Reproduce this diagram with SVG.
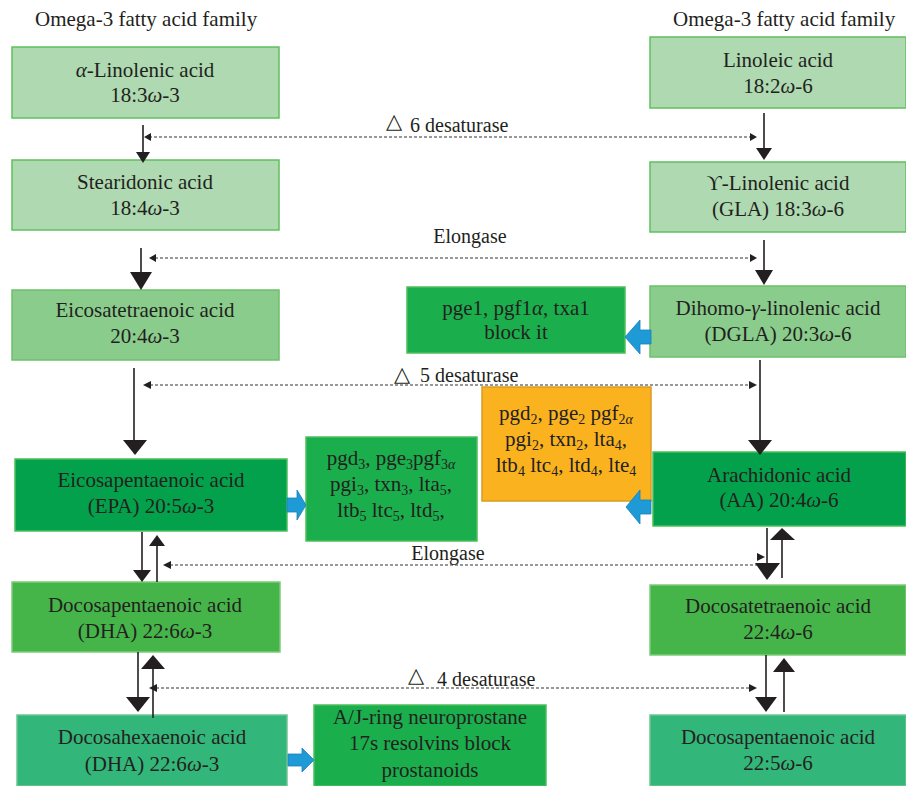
<svg xmlns="http://www.w3.org/2000/svg" width="906" height="786" viewBox="0 0 906 786" font-family="'Liberation Serif', 'Times New Roman', serif">
<style>
text{font-family:"Liberation Serif","Times New Roman","DejaVu Serif",serif;font-size:21px;fill:#231f20}
.c{text-anchor:middle}
.i{font-style:italic}
.s{font-size:14px}
.lb{font-size:20px}
.tri{font-family:"DejaVu Sans",sans-serif;font-size:21px}
.bx{stroke-width:1.5}
.l1{fill:#aed9b1;stroke:#5fc05c}
.l2{fill:#8acc8c;stroke:#6cc06a}
.g1{fill:#1aae4c;stroke:#4cbf5a}
.g2{fill:#03a14b;stroke:#4cbf5a}
.g3{fill:#45b54a;stroke:#7ccc78}
.g4{fill:#33b679;stroke:#6cc58f}
.or{fill:#fbb21f;stroke:#d89b25}
.ln{stroke:#231f20;stroke-width:1.6;fill:none}
.dl{stroke:#333;stroke-width:1.2;stroke-dasharray:3 2;fill:none}
.hd{fill:#231f20}
.bl{fill:#1e9bd7;stroke:#1680b8;stroke-width:0.8}
</style>
<text x="35" y="26">Omega-3 fatty acid family</text>
<text x="673" y="26">Omega-3 fatty acid family</text>

<g id="n1"><rect class="bx l1" x="12" y="47" width="267" height="71"/><text class="c" x="145" y="77"><tspan class="i">α</tspan>-Linolenic acid</text><text class="c" x="145" y="102">18:3<tspan class="i">ω</tspan>-3</text></g>
<g id="n2"><rect class="bx l1" x="650" y="37" width="256" height="71"/><text class="c" x="778" y="67">Linoleic acid</text><text class="c" x="778" y="93">18:2<tspan class="i">ω</tspan>-6</text></g>
<g id="n3"><rect class="bx l1" x="12" y="160" width="267" height="70"/><text class="c" x="145" y="189">Stearidonic acid</text><text class="c" x="145" y="215">18:4<tspan class="i">ω</tspan>-3</text></g>
<g id="n4"><rect class="bx l1" x="650" y="162" width="256" height="70"/><text class="c" x="778" y="190">ϒ-Linolenic acid</text><text class="c" x="778" y="216">(GLA) 18:3<tspan class="i">ω</tspan>-6</text></g>
<g id="n5"><rect class="bx l2" x="12" y="290" width="267" height="70"/><text class="c" x="145" y="317">Eicosatetraenoic acid</text><text class="c" x="145" y="343">20:4<tspan class="i">ω</tspan>-3</text></g>
<g id="n6"><rect class="bx g1" x="407" y="287" width="218" height="66"/><text class="c" x="516" y="315">pge1, pgf1<tspan class="i">α</tspan>, txa1</text><text class="c" x="516" y="339">block it</text></g>
<g id="n7"><rect class="bx l2" x="650" y="286" width="256" height="71"/><text class="c" x="778" y="315">Dihomo-<tspan class="i">γ</tspan>-linolenic acid</text><text class="c" x="778" y="341">(DGLA) 20:3<tspan class="i">ω</tspan>-6</text></g>
<g id="n8"><rect class="bx or" x="482" y="387" width="169" height="114"/>
<text class="c" x="566" y="420">pgd<tspan class="s" dy="4">2</tspan><tspan dy="-4">, pge</tspan><tspan class="s" dy="4">2</tspan><tspan dy="-4"> pgf</tspan><tspan class="s" dy="4">2</tspan><tspan class="s i">α</tspan></text>
<text class="c" x="566" y="446">pgi<tspan class="s" dy="4">2</tspan><tspan dy="-4">, txn</tspan><tspan class="s" dy="4">2</tspan><tspan dy="-4">, lta</tspan><tspan class="s" dy="4">4</tspan><tspan dy="-4">,</tspan></text>
<text class="c" x="566" y="472">ltb<tspan class="s" dy="4">4</tspan><tspan dy="-4"> ltc</tspan><tspan class="s" dy="4">4</tspan><tspan dy="-4">, ltd</tspan><tspan class="s" dy="4">4</tspan><tspan dy="-4">, lte</tspan><tspan class="s" dy="4">4</tspan></text></g>
<g id="n9"><rect class="bx g1" x="306" y="437" width="171" height="104"/>
<text class="c" x="391" y="465">pgd<tspan class="s" dy="4">3</tspan><tspan dy="-4">, pge</tspan><tspan class="s" dy="4">3</tspan><tspan dy="-4">pgf</tspan><tspan class="s" dy="4">3</tspan><tspan class="s i">α</tspan></text>
<text class="c" x="391" y="491">pgi<tspan class="s" dy="4">3</tspan><tspan dy="-4">, txn</tspan><tspan class="s" dy="4">3</tspan><tspan dy="-4">, lta</tspan><tspan class="s" dy="4">5</tspan><tspan dy="-4">,</tspan></text>
<text class="c" x="391" y="517">ltb<tspan class="s" dy="4">5</tspan><tspan dy="-4"> ltc</tspan><tspan class="s" dy="4">5</tspan><tspan dy="-4">, ltd</tspan><tspan class="s" dy="4">5</tspan><tspan dy="-4">,</tspan></text></g>
<g id="n10"><rect class="bx g2" x="15" y="459" width="272" height="72"/><text class="c" x="151" y="487">Eicosapentaenoic acid</text><text class="c" x="151" y="513">(EPA) 20:5<tspan class="i">ω</tspan>-3</text></g>
<g id="n11"><rect class="bx g2" x="653" y="452" width="253" height="74"/><text class="c" x="779" y="482">Arachidonic acid</text><text class="c" x="779" y="507">(AA) 20:4<tspan class="i">ω</tspan>-6</text></g>
<g id="n12"><rect class="bx g3" x="12" y="582" width="268" height="70"/><text class="c" x="145" y="612">Docosapentaenoic acid</text><text class="c" x="145" y="638">(DHA) 22:6<tspan class="i">ω</tspan>-3</text></g>
<g id="n13"><rect class="bx g3" x="650" y="585" width="256" height="70"/><text class="c" x="778" y="613">Docosatetraenoic acid</text><text class="c" x="778" y="639">22:4<tspan class="i">ω</tspan>-6</text></g>
<g id="n14"><rect class="bx g4" x="17" y="715" width="270" height="71"/><text class="c" x="152" y="744">Docosahexaenoic acid</text><text class="c" x="152" y="771">(DHA) 22:6<tspan class="i">ω</tspan>-3</text></g>
<g id="n15"><rect class="bx g1" x="314" y="705" width="232" height="81"/><text class="c" x="430" y="724">A/J-ring neuroprostane</text><text class="c" x="430" y="750">17s resolvins block</text><text class="c" x="430" y="777">prostanoids</text></g>
<g id="n16"><rect class="bx g4" x="650" y="715" width="256" height="71"/><text class="c" x="778" y="744">Docosapentaenoic acid</text><text class="c" x="778" y="770">22:5<tspan class="i">ω</tspan>-6</text></g>

<g id="labels">
<text class="tri" x="386" y="128">△</text>
<text class="lb" x="410" y="132">6 desaturase</text>
<text class="c lb" x="470" y="243">Elongase</text>
<text class="tri" x="394" y="381">△</text>
<text class="lb" x="420" y="382">5 desaturase</text>
<text class="c lb" x="448" y="560">Elongase</text>
<text class="tri" x="408" y="682">△</text>
<text class="lb" x="437" y="686">4 desaturase</text>
</g>

<g id="connectors">
<path class="ln" d="M143 125 V155"/><path class="hd" d="M136 152 L150 152 L143 163 Z"/>
<path class="ln" d="M764 113 V150"/><path class="hd" d="M756 148 L772 148 L764 160 Z"/>
<path class="dl" d="M149 137 H750"/><path class="hd" d="M144 137 L151 133 L151 141 Z"/><path class="hd" d="M757 137 L750 133 L750 141 Z"/>
<path class="ln" d="M141 248 V276"/><path class="hd" d="M130 272 L152 272 L141 290 Z"/>
<path class="ln" d="M764 240 V274"/><path class="hd" d="M755 270 L773 270 L764 285 Z"/>
<path class="dl" d="M155 258 H750"/><path class="hd" d="M149 258 L156 254 L156 262 Z"/><path class="hd" d="M757 258 L750 254 L750 262 Z"/>
<path class="ln" d="M134 368 V443"/><path class="hd" d="M123 440 L147 440 L135 455 Z"/>
<path class="ln" d="M760 360 V443"/><path class="hd" d="M748 440 L772 440 L760 455 Z"/>
<path class="dl" d="M150 385 H750"/><path class="hd" d="M143 385 L151 381 L151 389 Z"/><path class="hd" d="M757 385 L749 381 L749 389 Z"/>
<path class="ln" d="M142 532 V572"/><path class="hd" d="M133 570 L151 570 L142 582 Z"/>
<path class="ln" d="M157 582 V544"/><path class="hd" d="M149 546 L165 546 L157 535 Z"/>
<path class="dl" d="M170 565 H757"/><path class="hd" d="M163 565 L171 561 L171 569 Z"/>
<path class="ln" d="M767 528 V566"/><path class="hd" d="M755 563 L780 563 L767 580 Z"/>
<path class="ln" d="M782 578 V538"/><path class="hd" d="M770 540 L795 540 L782 528 Z"/><path class="hd" d="M765 557 L757 553 L757 561 Z"/>
<path class="ln" d="M138 652 V700"/><path class="hd" d="M126 697 L150 697 L138 712 Z"/>
<path class="ln" d="M153 718 V666"/><path class="hd" d="M141 669 L165 669 L153 655 Z"/>
<path class="dl" d="M156 688 H750"/><path class="hd" d="M149 688 L157 684 L157 692 Z"/><path class="hd" d="M757 688 L749 684 L749 692 Z"/>
<path class="ln" d="M766 655 V700"/><path class="hd" d="M755 697 L777 697 L766 712 Z"/>
<path class="ln" d="M784 712 V670"/><path class="hd" d="M773 672 L795 672 L784 658 Z"/>
<path class="bl" d="M651 330 H640 V320 L625 337 L640 354 V344 H651 Z"/>
<path class="bl" d="M651 500 H640 V490 L626 507 L640 524 V514 H651 Z"/>
<path class="bl" d="M287 498 H297 V490 L306 505 L297 520 V512 H287 Z"/>
<path class="bl" d="M288 754 H302 V748 L314 760 L302 772 V766 H288 Z"/>
</g>
</svg>
